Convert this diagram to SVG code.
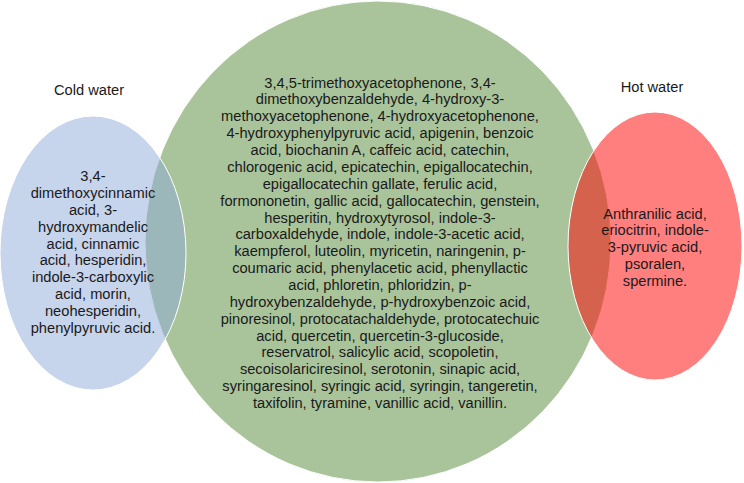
<svg xmlns="http://www.w3.org/2000/svg" width="744" height="483" viewBox="0 0 744 483">
<style>
text{font-family:"Liberation Sans",Arial,sans-serif;font-size:14.67px;fill:#1a1a1a;text-anchor:middle}
.set{stroke:#ffffff;stroke-width:1}
</style>
<rect width="744" height="483" fill="#ffffff"/>
<g id="both">
<ellipse class="set" cx="378" cy="241.5" rx="233" ry="240.5" fill="#A9C49A"/>
<text x="380" y="87.5">3,4,5-trimethoxyacetophenone, 3,4-</text>
<text x="380" y="104.4">dimethoxybenzaldehyde, 4-hydroxy-3-</text>
<text x="380" y="121.2">methoxyacetophenone, 4-hydroxyacetophenone,</text>
<text x="380" y="138.1">4-hydroxyphenylpyruvic acid, apigenin, benzoic</text>
<text x="380" y="155">acid, biochanin A, caffeic acid, catechin,</text>
<text x="380" y="171.8">chlorogenic acid, epicatechin, epigallocatechin,</text>
<text x="380" y="188.7">epigallocatechin gallate, ferulic acid,</text>
<text x="380" y="205.6">formononetin, gallic acid, gallocatechin, genstein,</text>
<text x="380" y="222.5">hesperitin, hydroxytyrosol, indole-3-</text>
<text x="380" y="239.3">carboxaldehyde, indole, indole-3-acetic acid,</text>
<text x="380" y="256.2">kaempferol, luteolin, myricetin, naringenin, p-</text>
<text x="380" y="273.1">coumaric acid, phenylacetic acid, phenyllactic</text>
<text x="380" y="289.9">acid, phloretin, phloridzin, p-</text>
<text x="380" y="306.8">hydroxybenzaldehyde, p-hydroxybenzoic acid,</text>
<text x="380" y="323.7">pinoresinol, protocatachaldehyde, protocatechuic</text>
<text x="380" y="340.5">acid, quercetin, quercetin-3-glucoside,</text>
<text x="380" y="357.4">reservatrol, salicylic acid, scopoletin,</text>
<text x="380" y="374.3">secoisolariciresinol, serotonin, sinapic acid,</text>
<text x="380" y="391.2">syringaresinol, syringic acid, syringin, tangeretin,</text>
<text x="380" y="408">taxifolin, tyramine, vanillic acid, vanillin.</text>
</g>
<g id="cold-water">
<ellipse class="set" cx="93" cy="253" rx="93" ry="137" fill="#8DA9D9" fill-opacity="0.5"/>
<text x="89" y="95">Cold water</text>
<text x="93" y="181">3,4-</text>
<text x="93" y="197.9">dimethoxycinnamic</text>
<text x="93" y="214.7">acid, 3-</text>
<text x="93" y="231.6">hydroxymandelic</text>
<text x="93" y="248.5">acid, cinnamic</text>
<text x="93" y="265.4">acid, hesperidin,</text>
<text x="93" y="282.2">indole-3-carboxylic</text>
<text x="93" y="299.1">acid, morin,</text>
<text x="93" y="316">neohesperidin,</text>
<text x="93" y="332.8">phenylpyruvic acid.</text>
</g>
<g id="hot-water">
<ellipse class="set" cx="655" cy="246" rx="87" ry="134" fill="#FF0000" fill-opacity="0.5"/>
<text x="652" y="92">Hot water</text>
<text x="655" y="218.5">Anthranilic acid,</text>
<text x="655" y="235.4">eriocitrin, indole-</text>
<text x="655" y="252.2">3-pyruvic acid,</text>
<text x="655" y="269.1">psoralen,</text>
<text x="655" y="286">spermine.</text>
</g>
</svg>
